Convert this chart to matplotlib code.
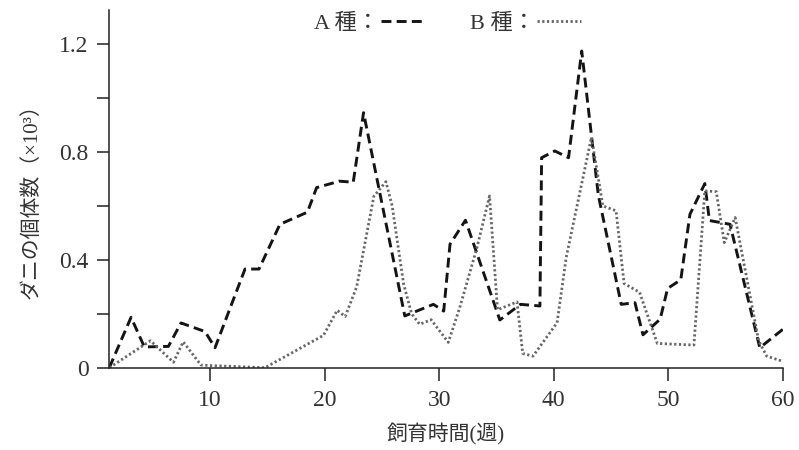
import matplotlib
matplotlib.use('Agg')
import matplotlib.pyplot as plt
from matplotlib.ticker import MultipleLocator

plt.rcParams['font.family'] = ['Liberation Serif', 'Noto Sans CJK JP']

# species A (dashed)
weeks_a = [1.2, 3.1, 4.26, 6.36, 7.46, 9.56, 10.43, 13.05, 14.27, 16.1,
           18.5, 19.3, 21.3, 22.5, 23.4, 27.0, 29.5, 30.4, 30.95, 32.3,
           35.3, 37.1, 38.8, 38.95, 40.1, 41.3, 42.45, 43.9, 45.9, 47.1,
           47.8, 49.3, 49.95, 51.1, 51.9, 53.2, 53.6, 55.4, 58.0, 60.0]
count_a = [0.0, 0.187, 0.077, 0.079, 0.166, 0.134, 0.074, 0.366, 0.366, 0.532,
           0.577, 0.668, 0.692, 0.688, 0.946, 0.192, 0.235, 0.21, 0.458, 0.547,
           0.177, 0.235, 0.229, 0.779, 0.804, 0.779, 1.175, 0.64, 0.235, 0.241,
           0.122, 0.18, 0.294, 0.326, 0.569, 0.683, 0.546, 0.532, 0.074, 0.142]

# species B (dotted)
weeks_b = [1.2, 4.8, 6.8, 7.65, 9.2, 10.0, 14.8, 19.9, 21.1, 21.8,
           22.8, 24.3, 25.35, 25.9, 26.9, 27.6, 28.3, 29.3, 30.8, 31.8,
           33.3, 34.4, 35.1, 36.8, 37.3, 38.2, 40.3, 41.1, 43.3, 44.3,
           45.45, 46.15, 47.5, 49.05, 52.25, 53.2, 54.2, 54.9, 55.85, 57.9,
           58.6, 59.9]
count_b = [0.0, 0.10, 0.02, 0.096, 0.01, 0.008, 0.0, 0.12, 0.213, 0.19,
           0.30, 0.636, 0.69, 0.6, 0.31, 0.2, 0.161, 0.178, 0.094, 0.223,
           0.445, 0.637, 0.215, 0.244, 0.053, 0.043, 0.167, 0.41, 0.855, 0.6,
           0.582, 0.312, 0.28, 0.09, 0.084, 0.656, 0.653, 0.464, 0.557, 0.1,
           0.043, 0.025]

x_ticks = [10, 20, 30, 40, 50, 60]
y_ticks = [0, 0.4, 0.8, 1.2]
y_tick_labels = ['0', '0.4', '0.8', '1.2']


def main():
    fig = plt.figure(figsize=(7.99, 4.5), dpi=100)
    ax = fig.add_axes([0.1368, 0.1829, 0.8428, 0.7949])

    ax.plot(weeks_a, count_a, color='#141414', lw=2.1,
            dashes=(3.4, 1.8), label='A 種：')
    ax.plot(weeks_b, count_b, color='#666666', lw=2.0,
            dashes=(0.8, 0.9), label='B 種：')

    ax.set_xlim(1.2, 60)
    ax.set_ylim(0, 1.327)
    ax.set_xticks(x_ticks)
    ax.set_yticks(y_ticks)
    ax.set_yticklabels(y_tick_labels)
    ax.yaxis.set_minor_locator(MultipleLocator(0.2))

    for side in ['top', 'right']:
        ax.spines[side].set_visible(False)
    for side in ['left', 'bottom']:
        ax.spines[side].set_linewidth(1.1)
        ax.spines[side].set_color('#222222')

    ax.tick_params(axis='both', which='both', direction='out', length=9,
                   width=1.1, color='#222222', labelsize=17,
                   labelcolor='#333333')
    ax.tick_params(axis='x', pad=7)
    ax.tick_params(axis='y', pad=6)

    ax.set_xlabel('飼育時間(週)', fontsize=15, color='#333333')
    ax.xaxis.set_label_coords(0.5, -0.155)
    ax.set_ylabel('ダニの個体数（×10³）', fontsize=15, color='#333333')
    ax.yaxis.set_label_coords(-0.1, 0.48)

    fig.legend(loc='center', bbox_to_anchor=(0.56, 0.947), ncol=2,
               frameon=False, markerfirst=False, fontsize=16,
               handlelength=2.0, handletextpad=0.1, columnspacing=2.0,
               labelcolor='#333333')

    fig.savefig('out.png', dpi=100)


if __name__ == '__main__':
    main()
